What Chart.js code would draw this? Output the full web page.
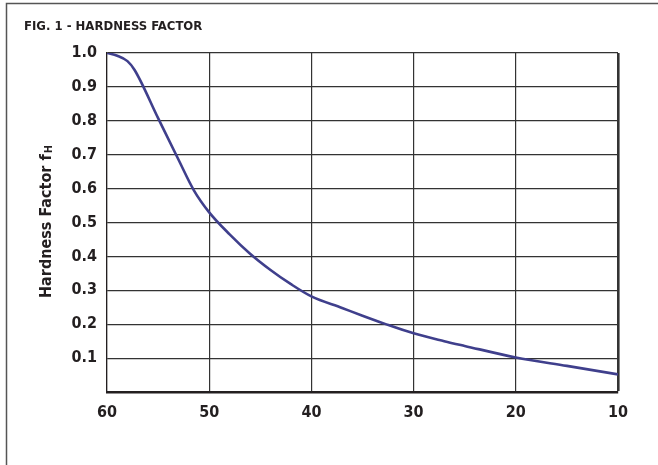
<!DOCTYPE html>
<html>
<head>
<meta charset="utf-8">
<script src="https://cdn.jsdelivr.net/npm/chart.js@4"></script>
<style>
  html, body { margin: 0; padding: 0; background: #fff; }
  #wrap { width: 658px; height: 465px; position: relative; }
</style>
</head>
<body>
<div id="wrap"><canvas id="chart_1" width="658" height="465"></canvas></div>
<script>
// Rockwell hardness (x, reversed) vs hardness factor fH
let hardness = [60, 59, 58, 57.3, 55, 53, 51.5, 50, 48, 46, 44, 42, 40, 37, 35, 32.8, 30, 27, 25, 20, 15, 10];
let factor   = [1.0, 0.992, 0.976, 0.95, 0.808, 0.685, 0.595, 0.53, 0.465, 0.408, 0.36, 0.318, 0.282, 0.248, 0.225, 0.201, 0.173, 0.150, 0.136, 0.102, 0.077, 0.052];
let xTicks = [60, 50, 40, 30, 20, 10];
let yTicks = [0.1, 0.2, 0.3, 0.4, 0.5, 0.6, 0.7, 0.8, 0.9, 1.0];

let fam = "'Liberation Sans Narrow', 'DejaVu Sans Condensed', 'Arial Narrow', sans-serif";

let points = hardness.map((h, i) => ({x: h, y: factor[i]}));

let extras = {
    id: 'extras',
    afterDraw(chart) {
        let c = chart.ctx;
        c.save();
        // outer frame (top + left)
        c.strokeStyle = '#555';
        c.lineWidth = 1.5;
        c.beginPath();
        c.moveTo(6.5, 465);
        c.lineTo(6.5, 3.5);
        c.lineTo(658, 3.5);
        c.stroke();
        // figure title
        c.fillStyle = '#231f20';
        c.font = "bold 13px " + fam;
        c.textBaseline = 'middle';
        c.textAlign = 'left';
        c.fillText('FIG. 1 - HARDNESS FACTOR', 24, 27);
        // y axis title with small H
        c.translate(47, 222);
        c.rotate(-Math.PI / 2);
        let main = 'Hardness Factor f';
        c.font = "bold 16px " + fam;
        let w1 = c.measureText(main).width;
        c.font = "bold 11px " + fam;
        let w2 = c.measureText('H').width;
        let x0 = -(w1 + w2) / 2;
        c.font = "bold 16px " + fam;
        c.fillText(main, x0, 0);
        c.font = "bold 11px " + fam;
        c.fillText('H', x0 + w1 + 1, 2);
        c.restore();
    }
};

var chart1 = new Chart(document.getElementById('chart_1'), {
    type: 'line',
    data: {
        datasets: [
            {
                data: points,
                borderColor: '#3f3f8c',
                borderWidth: 2.6,
                pointRadius: 0,
                fill: false,
                cubicInterpolationMode: 'monotone'
            }
        ]
    },
    options: {
        responsive: false,
        animation: false,
        layout: { padding: { left: 0, top: 53, right: 40, bottom: 0 } },
        plugins: {
            legend: { display: false },
            tooltip: { enabled: false }
        },
        scales: {
            x: {
                type: 'linear',
                reverse: true,
                min: 10,
                max: 60,
                afterBuildTicks(scale) { scale.ticks = xTicks.map(v => ({value: v})); },
                afterFit(scale) { scale.height = 73; },
                ticks: {
                    color: '#231f20',
                    font: { family: fam, size: 16, weight: 'bold' },
                    padding: 11,
                    maxRotation: 0
                },
                grid: {
                    color: '#333',
                    lineWidth: ctx => ctx.tick && ctx.tick.value === 10 ? 2.6 : 1.2,
                    drawTicks: false
                },
                border: { color: '#231f20', width: 2.6 }
            },
            y: {
                min: 0,
                max: 1.0,
                afterBuildTicks(scale) { scale.ticks = yTicks.map(v => ({value: v})); },
                afterFit(scale) { scale.width = 107; },
                ticks: {
                    color: '#231f20',
                    font: { family: fam, size: 16, weight: 'bold' },
                    padding: 10,
                    callback: v => v.toFixed(1)
                },
                grid: {
                    color: '#333',
                    lineWidth: 1.2,
                    drawTicks: false
                },
                border: { color: '#231f20', width: 1.2 }
            }
        }
    },
    plugins: [extras]
});
</script>
</body>
</html>
